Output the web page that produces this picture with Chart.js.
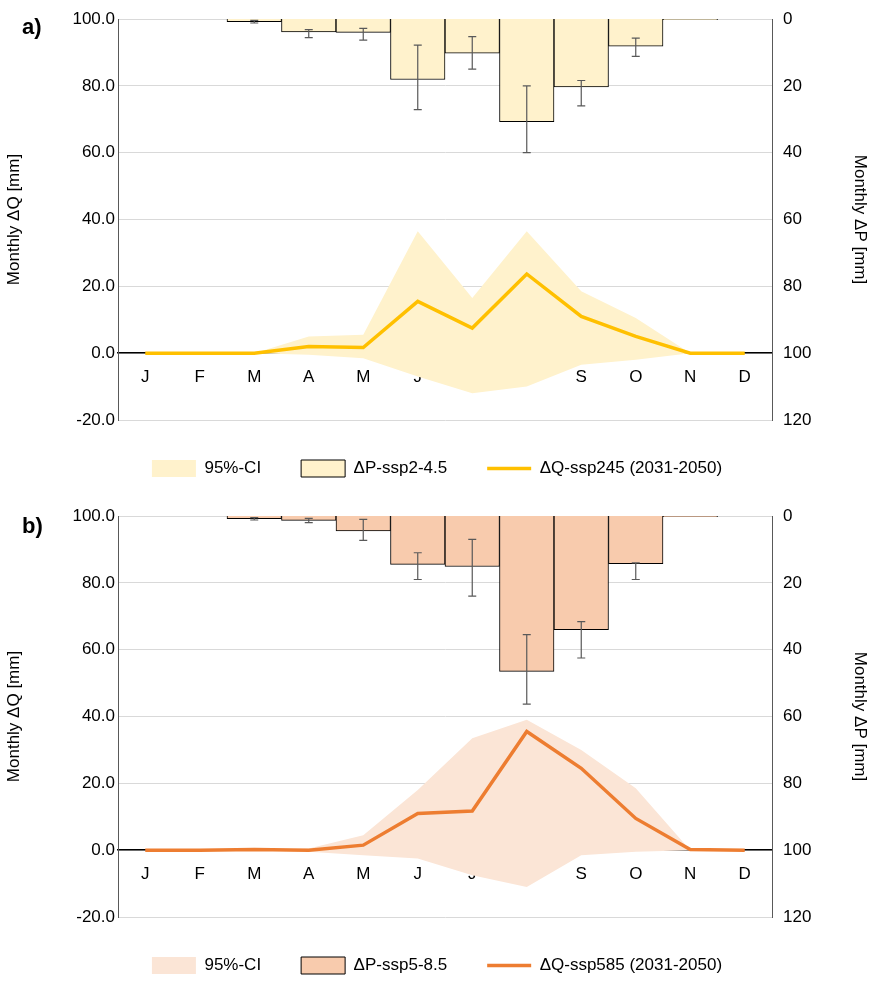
<!DOCTYPE html>
<html><head><meta charset="utf-8">
<script src="https://cdn.jsdelivr.net/npm/chart.js@4"></script>
<style>
body{margin:0;background:#fff;font-family:"Liberation Sans",Arial,sans-serif}
.p{position:relative;width:874px;height:497px}
.lab{position:absolute;left:22px;top:14px;font-weight:bold;font-size:22px}
</style></head><body>
<div class="p"><canvas id="c1" width="874" height="497"></canvas><div class="lab">a)</div></div>
<div class="p"><canvas id="c2" width="874" height="497"></canvas><div class="lab" style="top:16px">b)</div></div>
<script>
const months=['J','F','M','A','M','J','J','A','S','O','N','D'];
const dP245=[0,0,0.8,3.9,4,18.1,10.2,30.7,20.3,8.1,0.2,0];
const dP245Lo=[0,0,0.4,3.2,2.8,7.8,5.3,20,18.4,5.7,0.1,0];
const dP245Hi=[0,0,1.2,5.6,6.3,27.1,15,40,26,11.2,0.3,0];
const dQ245=[0,0,0,2,1.7,15.5,7.5,23.7,11,5,0,0];
const ci245Hi=[0,0,0,5,5.5,36.5,16.5,36.5,18.5,10.5,0,0];
const ci245Lo=[0,0,0,-0.5,-1.5,-7,-12,-10,-3.5,-2,0,0];
const dP585=[0,0,0.8,1.3,4.5,14.5,15.1,46.5,34,14.3,0.2,0];
const dP585Lo=[0,0,0.5,0.7,1,11,7,35.5,31.6,14,0.1,0];
const dP585Hi=[0,0,1.2,2,7.3,19,24,56.3,42.5,19,0.3,0];
const dQ585=[0,0,0.2,0,1.5,11,11.7,35.5,24.5,9.5,0.2,0];
const ci585Hi=[0,0,0,0.5,4.5,18,33.5,39,30,18.5,0,0];
const ci585Lo=[0,0,0,-0.5,-1.5,-2.5,-7.5,-11,-1.5,-0.5,0,0];
const F='"Liberation Sans",Arial,sans-serif';
const errPlugin={id:'err',afterDatasetsDraw(ch,a,o){
 const lo=ch.options.plugins.err.lo,hi=ch.options.plugins.err.hi;
 const x=ch.scales.x,y=ch.scales.y2,c=ch.ctx;c.save();c.strokeStyle='#595959';c.lineWidth=1.2;
 lo.forEach((l,i)=>{const h=hi[i];if(h-l<0.5)return;const px=x.getPixelForValue(i),a1=y.getPixelForValue(l),a2=y.getPixelForValue(h);
 c.beginPath();c.moveTo(px,a1);c.lineTo(px,a2);c.moveTo(px-4,a1);c.lineTo(px+4,a1);c.moveTo(px-4,a2);c.lineTo(px+4,a2);c.stroke();});
 c.restore();}};
function make(id,P,Plo,Phi,Q,Hi,Lo,ciCol,barCol,lineCol,pl,ql){
 new Chart(document.getElementById(id),{
  data:{labels:months,datasets:[
   {type:'line',label:'95%-CI',data:Hi,yAxisID:'y',borderWidth:0,pointRadius:0,backgroundColor:ciCol,borderColor:ciCol,fill:'+1',order:3,pointStyle:'rect'},
   {type:'line',label:'lo',data:Lo,yAxisID:'y',borderWidth:0,pointRadius:0,backgroundColor:ciCol,borderColor:ciCol,fill:false,order:3},
   {type:'bar',label:pl,data:P,yAxisID:'y2',backgroundColor:barCol,borderColor:'#000',borderWidth:1,barPercentage:1,categoryPercentage:1,order:2,pointStyle:'rect'},
   {type:'line',label:ql,data:Q,yAxisID:'y',borderColor:lineCol,backgroundColor:lineCol,borderWidth:3.5,pointRadius:0,tension:0,order:1,pointStyle:'line'}
  ]},
  options:{responsive:false,animation:false,
   layout:{padding:{top:19,bottom:10}},
   scales:{
    x:{position:{y:0},offset:true,z:2,grid:{display:false},border:{color:'#000',width:1.5},ticks:{color:'#000',font:{family:F,size:17},padding:6}},
    y:{position:'left',min:-20,max:100,ticks:{stepSize:20,color:'#000',font:{family:F,size:17},callback:v=>v.toFixed(1)},
       grid:{color:'#d9d9d9',drawTicks:false},border:{color:'#595959'},
       title:{display:true,text:'Monthly ΔQ [mm]',color:'#000',font:{family:F,size:17}},afterFit:s=>{s.width=118}},
    y2:{position:'right',reverse:true,min:0,max:120,ticks:{stepSize:20,color:'#000',font:{family:F,size:17}},
       grid:{display:false},border:{color:'#595959'},
       title:{display:true,text:'Monthly ΔP [mm]',color:'#000',font:{family:F,size:17}},afterFit:s=>{s.width=102}}
   },
   plugins:{err:{lo:Plo,hi:Phi},tooltip:{enabled:false},
    legend:{position:'bottom',labels:{filter:i=>i.text!=='lo',sort:(a,b)=>a.datasetIndex-b.datasetIndex,usePointStyle:true,pointStyleWidth:44,boxHeight:17,color:'#000',font:{family:F,size:17},padding:40}}}
  },plugins:[errPlugin]});
}
make('c1',dP245,dP245Lo,dP245Hi,dQ245,ci245Hi,ci245Lo,'#fff2cc','#fff2cc','#ffc000','ΔP-ssp2-4.5','ΔQ-ssp245 (2031-2050)');
make('c2',dP585,dP585Lo,dP585Hi,dQ585,ci585Hi,ci585Lo,'#fbe5d6','#f8cbad','#ed7d31','ΔP-ssp5-8.5','ΔQ-ssp585 (2031-2050)');
</script></body></html>
